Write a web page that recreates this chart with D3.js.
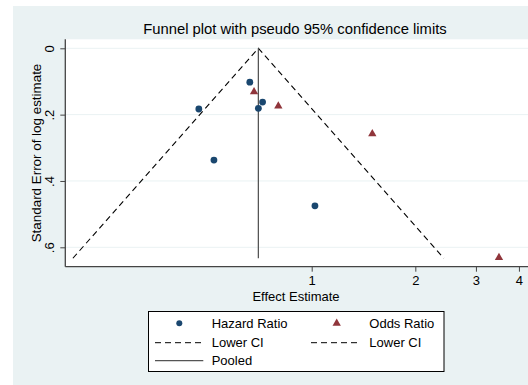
<!DOCTYPE html>
<html lang="en">
<head>
<meta charset="UTF-8">
<title>Funnel plot</title>
<style>
  body { margin: 0; background: #fff; }
  text { font-family: "Liberation Sans", Arial, sans-serif; fill: #000; }
</style>
</head>
<body>
<svg width="528" height="385"></svg>
<script src="https://d3js.org/d3.v7.min.js"></script>
<script>
// data
var hazardEst = [0.661, 0.470, 0.520, 0.700, 0.720, 1.022];
var hazardSE  = [0.102, 0.183, 0.337, 0.181, 0.162, 0.475];
var oddsEst   = [0.680, 0.800, 1.50, 3.50];
var oddsSE    = [0.131, 0.174, 0.258, 0.631];
var pooledEst = 0.70;
var maxSE = 0.633;
var xTicks = [1, 2, 3, 4];
var yTicks = [0, 0.2, 0.4, 0.6];
var yTickLabels = ["0", ".2", ".4", ".6"];

var svg = d3.select("svg");
var plot = {left: 65.3, right: 528, top: 39.3, bottom: 266.7};

// graph region (Stata s2color look)
svg.append("rect").attr("x", 13).attr("y", 6).attr("width", 515).attr("height", 379).attr("fill", "#eaf2f3");
svg.append("rect").attr("x", plot.left).attr("y", plot.top)
  .attr("width", plot.right - plot.left).attr("height", plot.bottom - plot.top).attr("fill", "#fff");

var x = d3.scaleLog().domain([0.1924, 4.25]).range([plot.left, plot.right]);
var y = d3.scaleLinear().domain([0, 0.6]).range([48.3, 247.3]);

var g = svg.append("g");

// grid
g.selectAll(".grid").data(yTicks).enter().append("line")
  .attr("x1", plot.left).attr("x2", plot.right)
  .attr("y1", function(d){ return y(d); }).attr("y2", function(d){ return y(d); })
  .attr("stroke", "#eaf2f3").attr("stroke-width", 1);

// axes
var yAxis = g.append("g").attr("transform", "translate(" + plot.left + ",0)")
  .call(d3.axisLeft(y).tickValues(yTicks).tickSize(5).tickPadding(3)
    .tickFormat(function(d, i){ return yTickLabels[i]; }));
yAxis.select(".domain").remove();
yAxis.selectAll(".tick line").attr("stroke", "#444");
yAxis.selectAll(".tick text")
  .attr("transform", "rotate(-90)")
  .attr("x", 0).attr("y", -11).attr("dy", 0)
  .attr("text-anchor", "middle")
  .style("font-size", "13px");
g.append("line").attr("x1", plot.left).attr("x2", plot.left)
  .attr("y1", plot.top).attr("y2", plot.bottom).attr("stroke", "#444").attr("stroke-width", 1.3);

var xAxis = g.append("g").attr("transform", "translate(0," + plot.bottom + ")")
  .call(d3.axisBottom(x).tickValues(xTicks).tickSize(5).tickPadding(4).tickFormat(d3.format("d")));
xAxis.select(".domain").remove();
xAxis.selectAll(".tick line").attr("stroke", "#444");
xAxis.selectAll(".tick text").style("font-size", "13px");
g.append("line").attr("x1", plot.left).attr("x2", plot.right)
  .attr("y1", plot.bottom).attr("y2", plot.bottom).attr("stroke", "#444").attr("stroke-width", 1.3);

// funnel lines
var lo = Math.exp(Math.log(pooledEst) - 1.96 * maxSE);
var hi = Math.exp(Math.log(pooledEst) + 1.96 * maxSE);
var line = d3.line().x(function(d){ return x(d[0]); }).y(function(d){ return y(d[1]); });
g.append("path").datum([[lo, maxSE], [pooledEst, 0], [hi, maxSE]])
  .attr("d", line).attr("fill", "none").attr("stroke", "#000")
  .attr("stroke-width", 1.1).attr("stroke-dasharray", "6,4");
g.append("line").attr("x1", x(pooledEst)).attr("x2", x(pooledEst))
  .attr("y1", y(0)).attr("y2", y(maxSE)).attr("stroke", "#555").attr("stroke-width", 1.3);

// points
var navy = "#1a476f", maroon = "#90353b";
g.selectAll(".hr").data(hazardEst).enter().append("circle")
  .attr("cx", function(d){ return x(d); })
  .attr("cy", function(d, i){ return y(hazardSE[i]); })
  .attr("r", 3.4).attr("fill", navy);
var tri = d3.symbol().type(d3.symbolTriangle).size(30);
g.selectAll(".or").data(oddsEst).enter().append("path")
  .attr("d", tri)
  .attr("transform", function(d, i){ return "translate(" + x(d) + "," + y(oddsSE[i]) + ")"; })
  .attr("fill", maroon);

// title and axis titles
svg.append("text").attr("x", 295).attr("y", 33.5).attr("text-anchor", "middle")
  .style("font-size", "14.8px").text("Funnel plot with pseudo 95% confidence limits");
svg.append("text").attr("transform", "translate(40.5,153) rotate(-90)").attr("text-anchor", "middle")
  .style("font-size", "13.4px").text("Standard Error of log estimate");
svg.append("text").attr("x", 296).attr("y", 300.5).attr("text-anchor", "middle")
  .style("font-size", "13px").text("Effect Estimate");

// legend
var leg = svg.append("g");
leg.append("rect").attr("x", 148.5).attr("y", 311.5).attr("width", 295.5).attr("height", 60)
  .attr("fill", "#fff").attr("stroke", "#000").attr("stroke-width", 1);
var rows = [323.3, 342.7, 360.7];
leg.append("circle").attr("cx", 179.3).attr("cy", rows[0]).attr("r", 3).attr("fill", navy);
leg.append("path").attr("d", tri).attr("transform", "translate(336.7," + rows[0] + ")").attr("fill", maroon);
[[155, 203.3], [311, 360]].forEach(function(p){
  leg.append("line").attr("x1", p[0]).attr("x2", p[1]).attr("y1", rows[1]).attr("y2", rows[1])
    .attr("stroke", "#000").attr("stroke-dasharray", "6,4");
});
leg.append("line").attr("x1", 155).attr("x2", 203.3).attr("y1", rows[2]).attr("y2", rows[2])
  .attr("stroke", "#555").attr("stroke-width", 1.3);
var legText = [["Hazard Ratio", 211.7, rows[0]], ["Odds Ratio", 369.3, rows[0]],
  ["Lower CI", 211.7, rows[1]], ["Lower CI", 369.3, rows[1]], ["Pooled", 211.7, rows[2]]];
leg.selectAll(".lt").data(legText).enter().append("text")
  .attr("x", function(d){ return d[1]; }).attr("y", function(d){ return d[2]; })
  .attr("dy", "0.36em").style("font-size", "13px")
  .text(function(d){ return d[0]; });
</script>
</body>
</html>
